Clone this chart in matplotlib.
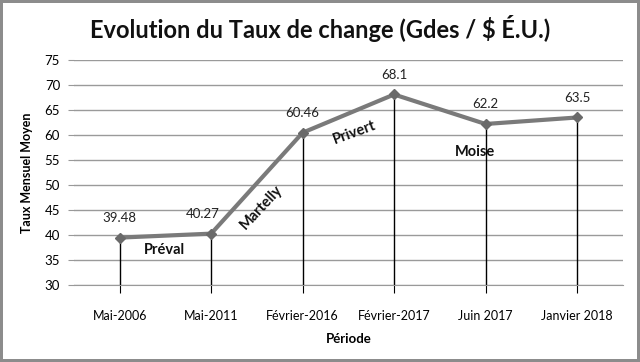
import matplotlib
matplotlib.use('Agg')
import matplotlib.pyplot as plt
import numpy as np

# data
periodes = ['Mai-2006', 'Mai-2011', 'Février-2016', 'Février-2017', 'Juin 2017', 'Janvier 2018']
taux = [39.48, 40.27, 60.46, 68.1, 62.2, 63.5]
taux_labels = ['39.48', '40.27', '60.46', '68.1', '62.2', '63.5']
presidents = ['Préval', 'Martelly', 'Privert', 'Moise']
pres_x = [0.49, 1.55, 2.57, 3.88]
pres_y = [37.0, 45.6, 60.4, 56.6]
pres_rot = [0, 47, 20, 0]

plt.rcParams['font.family'] = ['Lato', 'DejaVu Sans']

fig = plt.figure(figsize=(6.4, 3.62), dpi=100)
fig.patch.set_edgecolor('#8c8c8c')
fig.patch.set_linewidth(3)
ax = fig.add_axes([0.1156, 0.2127, 0.8574, 0.6216])

x = np.arange(len(periodes))

# drop lines
ax.vlines(x, 30, taux, color='black', linewidth=1, zorder=2)
ax.plot(x, taux, color='#7a7a7a', linewidth=3, zorder=3)
ax.plot(x, taux, linestyle='none', marker='D', markersize=5, color='#6a6a6a', zorder=4)

offsets = [(0, 10), (-6, 10), (0, 10), (0, 10), (0, 10), (0, 10)]
for xi, yi, lab, off in zip(x, taux, taux_labels, offsets):
    ax.annotate(lab, (xi, yi), xytext=off, textcoords='offset points',
                ha='center', va='bottom', fontsize=9.5, color='#222222')

for name, px, py, rot in zip(presidents, pres_x, pres_y, pres_rot):
    ax.text(px, py, name, ha='center', va='center', rotation=rot,
            fontsize=10.5, fontweight='bold', color='#111111')

ax.set_xlim(-0.5, 5.5)
ax.set_ylim(30, 75)
ax.set_yticks(range(30, 80, 5))
ax.set_xticks(x)
ax.set_xticklabels(periodes, fontsize=9)
ax.tick_params(axis='x', length=6, color='black', pad=12)
ax.tick_params(axis='y', length=4, color='#999999', labelsize=9.5, pad=6)
ax.yaxis.grid(True, color='#9a9a9a', linewidth=1)
ax.set_axisbelow(True)
for s in ['top', 'right', 'left']:
    ax.spines[s].set_visible(False)
ax.spines['bottom'].set_color('#999999')

ax.set_xlabel('Période', fontsize=9.5, fontweight='bold', labelpad=8)
ax.set_ylabel('Taux Mensuel Moyen', fontsize=9, fontweight='bold', labelpad=8)

fig.text(0.5, 0.92, 'Evolution du Taux de change (Gdes / $ É.U.)', ha='center', va='center',
         fontsize=17, fontweight='bold', color='#111111')

fig.savefig('out.png', dpi=100, edgecolor=fig.get_edgecolor())
